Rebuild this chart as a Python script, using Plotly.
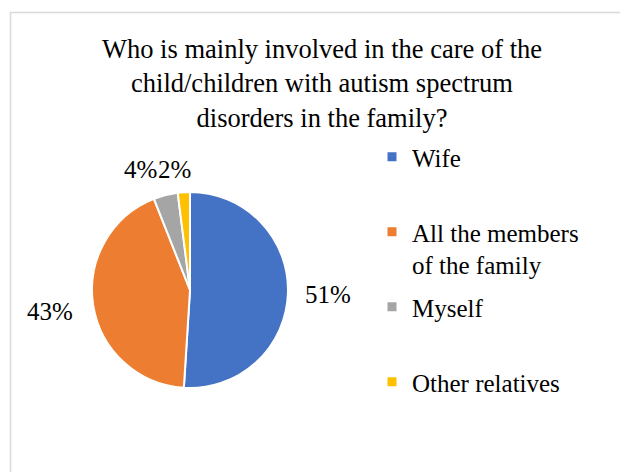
import plotly.graph_objects as go

# ---- data ----
categories = ["Wife", "All the members of the family", "Myself", "Other relatives"]
legend_labels = ["Wife<br> ", "All the members<br>of the family", "Myself<br> ", "Other relatives"]
values = [51, 43, 4, 2]
colors = ["#4472C4", "#ED7D31", "#A5A5A5", "#FFC000"]
title_text = ("Who is mainly involved in the care of the<br>"
              "child/children with autism spectrum<br>"
              "disorders in the family?")

W, H = 628, 472
OFF = 8  # page body margin offset
FONT = "Liberation Serif, Times New Roman, serif"


def px(x):
    return (x - OFF) / W


def py(y):
    return 1 - (y - OFF) / H


total = sum(values)
# data-label placement (pixel centres), one per slice
label_xy = [(327.5, 294.5), (50, 311), (140, 169.5), (174, 169.5)]

fig = go.Figure()

fig.add_trace(go.Pie(
    labels=categories,
    values=values,
    sort=False,
    direction="clockwise",
    rotation=0,
    marker=dict(colors=colors, line=dict(color="white", width=2)),
    textinfo="none",
    showlegend=False,
    domain=dict(x=[px(92), px(288)], y=[py(388), py(192)]),
))

# legend entries (one per slice, same labels/colours)
for lab, col in zip(legend_labels, colors):
    fig.add_trace(go.Scatter(
        x=[None], y=[None], mode="markers", name=lab,
        marker=dict(symbol="square", size=9, color=col),
        legendgroup=lab, showlegend=True, hoverinfo="skip",
    ))

annotations = []
for v, (ax, ay) in zip(values, label_xy):
    annotations.append(dict(
        text=f"{round(v / total * 100)}%",
        x=px(ax), y=py(ay), xref="paper", yref="paper",
        xanchor="center", yanchor="middle", showarrow=False,
        font=dict(family=FONT, size=25, color="black"),
    ))

fig.update_layout(
    width=W, height=H,
    margin=dict(l=0, r=0, t=0, b=0),
    paper_bgcolor="white", plot_bgcolor="white",
    xaxis=dict(visible=False), yaxis=dict(visible=False),
    title=dict(
        text=title_text,
        font=dict(family=FONT, size=26.5, color="black"),
        x=px(322), xanchor="center",
        y=1 - 50 / H, yanchor="top", yref="container",
    ),
    legend=dict(
        x=px(372), xanchor="left",
        y=py(126 + OFF), yanchor="top",
        font=dict(family=FONT, size=25, color="black"),
        valign="top",
        tracegroupgap=7,
        bgcolor="rgba(0,0,0,0)",
        itemclick=False, itemdoubleclick=False,
    ),
    annotations=annotations,
    shapes=[dict(
        type="rect", xref="paper", yref="paper",
        x0=px(10.5), x1=1.1, y0=py(12.5), y1=-0.1,
        line=dict(color="#D9D9D9", width=1.5), fillcolor="rgba(0,0,0,0)",
        layer="below",
    )],
)

fig.write_html("out.html")
